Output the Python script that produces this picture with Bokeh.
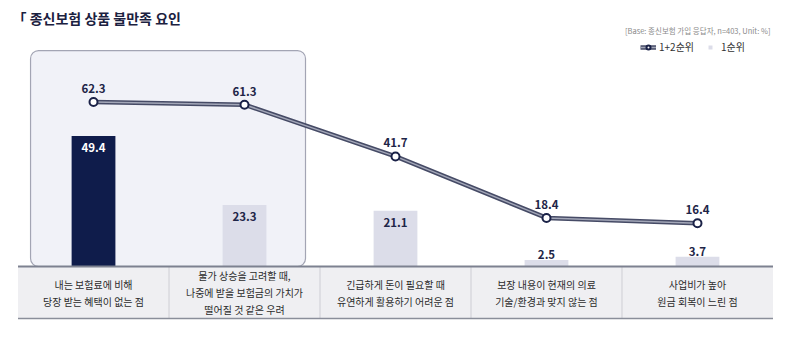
from bokeh.plotting import figure
from bokeh.models import Range1d, Label, Legend, LegendItem, ColumnDataSource
from bokeh.core.properties import value
from bokeh.embed import file_html
from bokeh.resources import INLINE

categories = [
    "내는 보험료에 비해\n당장 받는 혜택이 없는 점",
    "물가 상승을 고려할 때,\n나중에 받을 보험금의 가치가\n떨어질 것 같은 우려",
    "긴급하게 돈이 필요할 때\n유연하게 활용하기 어려운 점",
    "보장 내용이 현재의 의료\n기술/환경과 맞지 않는 점",
    "사업비가 높아\n원금 회복이 느린 점",
]
rank12 = [62.3, 61.3, 41.7, 18.4, 16.4]
rank1 = [49.4, 23.3, 21.1, 2.5, 3.7]
title_text = "「 종신보험 상품 불만족 요인"
base_note = "[Base: 종신보험 가입 응답자, n=403, Unit: %]"
legend_labels = ["1+2순위", "1순위"]

FONT = "Noto Sans CJK KR"
DARK = "#0f1c4b"
LIGHT = "#dcdde9"
INK = "#1e2547"

xs = list(range(len(categories)))
bar_colors = [DARK] + [LIGHT] * (len(xs) - 1)
lbl_colors = ["white"] + [INK] * (len(xs) - 1)

p = figure(width=790, height=352, output_backend="svg", toolbar_location=None,
           x_range=Range1d(-0.616, 4.616), y_range=Range1d(-32.58, 100.76),
           min_border=0, background_fill_color="white", border_fill_color="white")
p.axis.visible = False
p.grid.visible = False
p.outline_line_color = None

# highlight box
p.quad(left=[-0.417], right=[1.404], top=[81.8], bottom=[0], fill_color="#f1f2f8",
       line_color="#a3a5b4", line_width=1.2, border_radius=8)

# category label area
p.quad(left=[-0.5], right=[4.5], top=[0], bottom=[-19.7], fill_color="#efeff2", line_color=None)
p.segment(x0=[i + 0.5 for i in xs[:-1]], y0=0, x1=[i + 0.5 for i in xs[:-1]], y1=-19.7,
          line_color="#d9d9de", line_width=1.5)

# bars
src = ColumnDataSource(dict(x=xs, top=rank1, color=bar_colors))
r_bar = p.vbar(x="x", top="top", bottom=0, width=0.29, fill_color="color", line_color=None, source=src)

p.line([-0.5, 4.5], [0, 0], line_color="#7d8190", line_width=2)
p.line([-0.5, 4.5], [-19.7, -19.7], line_color="#8a8e9a", line_width=1.5)

# bar labels
inside = [i for i, v in enumerate(rank1) if v >= 10]
outside = [i for i, v in enumerate(rank1) if v < 10]
p.text(x=[xs[i] for i in inside], y=[rank1[i] for i in inside],
       text=[f"{rank1[i]:.1f}" for i in inside], text_color=[lbl_colors[i] for i in inside],
       text_align="center", text_baseline="top", y_offset=7,
       text_font=value(FONT), text_font_size="11.5px", text_font_style="bold")
p.text(x=[xs[i] for i in outside], y=[rank1[i] for i in outside],
       text=[f"{rank1[i]:.1f}" for i in outside], text_color=INK,
       text_align="center", text_baseline="bottom", y_offset=-1,
       text_font=value(FONT), text_font_size="11.5px", text_font_style="bold")

# line
r_l1 = p.line(xs, rank12, line_color="#464b66", line_width=4.5)
r_l2 = p.line(xs, rank12, line_color="#a3a7b8", line_width=1.5)
r_pt = p.scatter(xs, rank12, size=8, fill_color="white", line_color="#1a2147", line_width=2)
p.text(x=xs, y=rank12, text=[f"{v:.1f}" for v in rank12], text_color=INK,
       text_align="center", text_baseline="bottom", y_offset=-9,
       text_font=value(FONT), text_font_size="11.5px", text_font_style="bold")

# category labels
p.text(x=xs, y=[-9.9] * len(xs), text=categories, text_color="#2b2b2b",
       text_align="center", text_baseline="middle", text_line_height=1.15,
       text_font=value(FONT), text_font_size="10px")

# title & note
p.add_layout(Label(x=12, y=335, x_units="screen", y_units="screen", text=title_text,
                   text_font=FONT, text_font_size="14px", text_font_style="bold",
                   text_color="#1b2140", text_baseline="middle"))
p.add_layout(Label(x=770, y=322, x_units="screen", y_units="screen", text=base_note,
                   text_font=FONT, text_font_size="7.5px", text_color="#8a8a8a",
                   text_align="right", text_baseline="middle"))

r_sq = p.scatter(x=[float("nan")], y=[float("nan")], marker="square", size=7,
                 fill_color=LIGHT, line_color=None)
legend = Legend(items=[LegendItem(label=legend_labels[0], renderers=[r_l1, r_l2, r_pt]),
                       LegendItem(label=legend_labels[1], renderers=[r_sq])],
                location=(640, 298), orientation="horizontal", label_text_font=FONT,
                label_text_font_size="10px", label_text_color="#333333",
                glyph_width=16, glyph_height=10, spacing=8, padding=0, margin=0,
                label_standoff=3, border_line_color=None, background_fill_alpha=0,
                label_height=12)
p.add_layout(legend, "center")

open("out.html", "w").write(file_html(p, INLINE))
